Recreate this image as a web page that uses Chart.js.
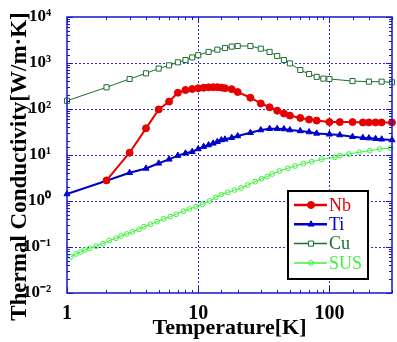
<!DOCTYPE html>
<html>
<head>
<meta charset="utf-8">
<script src="https://cdn.jsdelivr.net/npm/chart.js@4.4.0/dist/chart.umd.min.js"></script>
<style>
html, body { margin: 0; padding: 0; background: #fff; }
</style>
</head>
<body>
<canvas id="chartTC" width="397" height="342"></canvas>
<script>
// series names (legend order)
const seriesNames = ['Nb', 'Ti', 'Cu', 'SUS'];

// Nb
const nbTemp = [2, 3, 4, 5, 6, 7, 8, 9, 10, 11, 12, 13, 14, 15, 16, 18, 20, 25, 30, 35, 40, 45, 50, 60, 70, 80, 100, 120, 150, 180, 200, 225, 250, 300];
const nbK = [2.8, 11.2, 38, 98, 145, 226, 258, 272, 282, 290, 296, 298, 298, 292, 284, 270, 234, 176, 132, 109, 92, 80, 72, 64, 59, 56, 52, 52, 52, 51, 51, 51, 51, 51];

// Ti
const tiTemp = [1, 2, 3, 4, 5, 6, 7, 8, 9, 10, 11, 12, 13, 14, 15, 16, 18, 20, 25, 30, 35, 40, 45, 50, 60, 70, 80, 100, 120, 150, 180, 200, 225, 250, 300];
const tiK = [1.42, 2.76, 4.1, 5.1, 6.6, 8.05, 9.7, 10.9, 11.8, 13.5, 15.2, 16.5, 17.9, 19.5, 21.2, 21.9, 23.8, 25.9, 30.5, 34.9, 37.3, 37.3, 36.7, 34.9, 33.3, 31.6, 29.5, 28.2, 27.2, 25, 23.8, 23.3, 22.6, 22, 21.2];

// Cu
const cuTemp = [1, 2, 3, 4, 5, 6, 7, 8, 9, 10, 12, 14, 16, 18, 20, 25, 30, 35, 40, 45, 50, 60, 70, 80, 90, 100, 150, 200, 250, 300];
const cuK = [151, 296, 449, 596, 758, 890, 1035, 1160, 1320, 1480, 1740, 1950, 2120, 2270, 2340, 2340, 2050, 1740, 1420, 1160, 980, 705, 575, 500, 458, 450, 405, 393, 393, 380];

// SUS
const susTemp = [1.07, 1.17, 1.27, 1.37, 1.49, 1.67, 1.88, 2.1, 2.36, 2.58, 2.86, 3.15, 3.54, 3.86, 4.33, 4.86, 5.45, 6.12, 6.8, 7.71, 8.56, 9.6, 10.8, 12.2, 13.6, 15, 16.8, 18.9, 21.2, 23.8, 27.2, 30.4, 33.6, 36.6, 41.6, 48.3, 54.8, 63.4, 73.3, 87.1, 110, 120, 141, 169, 203, 242, 293];
const susK = [0.0615, 0.0705, 0.0778, 0.0861, 0.0937, 0.104, 0.118, 0.138, 0.155, 0.173, 0.192, 0.215, 0.243, 0.276, 0.311, 0.355, 0.41, 0.46, 0.514, 0.6, 0.67, 0.752, 0.848, 1.0, 1.2, 1.38, 1.54, 1.73, 1.92, 2.23, 2.63, 3.05, 3.4, 3.86, 4.5, 5.14, 5.77, 6.5, 7.15, 8.07, 8.9, 9.66, 10.5, 11.5, 12.4, 13.5, 14.2];

// axis tick labels (decades only)
const xDecades = [1, 10, 100];
const xTickText = ['1', '10', '100'];
const yDecades = [-2, -1, 0, 1, 2, 3, 4];
const yTickText = ['10\u207B\u00B2', '10\u207B\u00B9', '10\u2070', '10\u00B9', '10\u00B2', '10\u00B3', '10\u2074'];

const serif = "'Liberation Serif', 'Times New Roman', serif";

const toPoints = (xs, ys) => xs.map((v, i) => ({ x: v, y: ys[i] }));

const isDecade = (v) => {
    const l = Math.log10(v);
    return Math.abs(l - Math.round(l)) < 1e-6;
};

const canvas = document.getElementById('chartTC');
const ctx = canvas.getContext('2d');

const data = {
    datasets: [{
        label: seriesNames[0],
        data: toPoints(nbTemp, nbK),
        borderColor: '#e60000',
        backgroundColor: '#e60000',
        borderWidth: 2,
        pointStyle: 'circle',
        pointRadius: 3.5,
        pointBorderWidth: 1
    }, {
        label: seriesNames[1],
        data: toPoints(tiTemp, tiK),
        borderColor: '#0000cc',
        backgroundColor: '#0000cc',
        borderWidth: 2,
        pointStyle: 'triangle',
        pointRadius: 3.5,
        pointBorderWidth: 1
    }, {
        label: seriesNames[2],
        data: toPoints(cuTemp, cuK),
        borderColor: '#1d6e30',
        backgroundColor: '#ffffff',
        borderWidth: 1,
        pointStyle: 'rect',
        pointRadius: 3.6,
        pointBorderWidth: 1
    }, {
        label: seriesNames[3],
        data: toPoints(susTemp, susK),
        borderColor: '#3ef03e',
        backgroundColor: 'rgba(255,255,255,0)',
        borderWidth: 1,
        pointStyle: 'circle',
        pointRadius: 2.4,
        pointBorderWidth: 1
    }]
};

// grid, frame, inner ticks, legend box
const decorPlugin = {
    id: 'decor',
    beforeDatasetsDraw(chart) {
        const { ctx, chartArea: a, scales: { x, y } } = chart;
        ctx.save();
        ctx.strokeStyle = '#2a2ad8';
        ctx.lineWidth = 1;
        ctx.setLineDash([2, 2]);
        x.ticks.forEach(t => {
            if (isDecade(t.value) && t.value > x.min && t.value < x.max) {
                const px = Math.round(x.getPixelForValue(t.value)) + 0.5;
                ctx.beginPath(); ctx.moveTo(px, a.top); ctx.lineTo(px, a.bottom); ctx.stroke();
            }
        });
        y.ticks.forEach(t => {
            if (isDecade(t.value) && t.value > y.min && t.value < y.max) {
                const py = Math.round(y.getPixelForValue(t.value)) + 0.5;
                ctx.beginPath(); ctx.moveTo(a.left, py); ctx.lineTo(a.right, py); ctx.stroke();
            }
        });
        ctx.restore();
    },
    afterDatasetsDraw(chart) {
        const { ctx, chartArea: a, scales: { x, y } } = chart;
        ctx.save();
        ctx.strokeStyle = '#1515d0';
        ctx.lineWidth = 1;
        ctx.setLineDash([]);
        x.ticks.forEach(t => {
            const px = Math.round(x.getPixelForValue(t.value)) + 0.5;
            const len = isDecade(t.value) ? 6 : 3;
            ctx.beginPath();
            ctx.moveTo(px, a.bottom); ctx.lineTo(px, a.bottom - len);
            ctx.moveTo(px, a.top); ctx.lineTo(px, a.top + len);
            ctx.stroke();
        });
        y.ticks.forEach(t => {
            const py = Math.round(y.getPixelForValue(t.value)) + 0.5;
            const len = isDecade(t.value) ? 6 : 3;
            ctx.beginPath();
            ctx.moveTo(a.left, py); ctx.lineTo(a.left + len, py);
            ctx.moveTo(a.right, py); ctx.lineTo(a.right - len, py);
            ctx.stroke();
        });
        ctx.lineWidth = 1.5;
        ctx.strokeRect(a.left, a.top, a.right - a.left, a.bottom - a.top);

        // legend
        const bx = 288, by = 191, bw = 80, bh = 88;
        ctx.fillStyle = '#ffffff';
        ctx.fillRect(bx, by, bw, bh);
        ctx.strokeStyle = '#000000';
        ctx.lineWidth = 2;
        ctx.strokeRect(bx, by, bw, bh);
        chart.data.datasets.forEach((ds, i) => {
            const ly = by + 14 + i * 19.3;
            ctx.strokeStyle = ds.borderColor;
            ctx.lineWidth = ds.borderWidth + 0.5;
            ctx.beginPath(); ctx.moveTo(294, ly); ctx.lineTo(327, ly); ctx.stroke();
            ctx.fillStyle = ds.backgroundColor;
            ctx.lineWidth = ds.pointBorderWidth;
            Chart.helpers.drawPoint(ctx, {
                pointStyle: ds.pointStyle, radius: ds.pointRadius, rotation: 0, borderWidth: ds.pointBorderWidth
            }, 311, ly);
            ctx.fillStyle = ds.borderColor;
            ctx.font = '18px ' + serif;
            ctx.textBaseline = 'middle';
            ctx.textAlign = 'left';
            ctx.fillText(ds.label, 329, ly + 1);
        });
        ctx.restore();
    }
};

const chartTC = new Chart(ctx, {
    type: 'scatter',
    data: data,
    plugins: [decorPlugin],
    options: {
        responsive: false,
        animation: false,
        devicePixelRatio: 1,
        clip: false,
        showLine: true,
        layout: { padding: { top: 17, right: 1, left: 0, bottom: 0 } },
        plugins: { legend: { display: false }, tooltip: { enabled: false } },
        scales: {
            x: {
                type: 'logarithmic',
                min: 1,
                max: 300,
                grid: { display: false },
                border: { display: false },
                ticks: {
                    autoSkip: false,
                    maxRotation: 0,
                    minRotation: 0,
                    padding: 1,
                    color: '#000',
                    font: { family: serif, size: 20, weight: 'bold' },
                    callback: (v) => {
                        const i = xDecades.findIndex(d => Math.abs(d - v) < 1e-9);
                        return i >= 0 ? xTickText[i] : '';
                    }
                },
                title: {
                    display: true,
                    text: 'Temperature[K]',
                    color: '#000',
                    padding: { top: 0, bottom: 0 },
                    font: { family: serif, size: 22, weight: 'bold' }
                },
                afterFit: (s) => { s.height = 49; s.paddingLeft = 0; s.paddingRight = 0; }
            },
            y: {
                type: 'logarithmic',
                min: 0.01,
                max: 10000,
                grid: { display: false },
                border: { display: false },
                ticks: {
                    autoSkip: false,
                    padding: 8,
                    color: '#000',
                    font: { family: serif, size: 17, weight: 'bold' },
                    callback: (v) => {
                        const i = yDecades.findIndex(d => Math.abs(Math.log10(v) - d) < 1e-6);
                        return i >= 0 ? yTickText[i] : '';
                    }
                },
                title: {
                    display: true,
                    text: 'Thermal Conductivity[W/m\u00B7K]\u00A0\u00A0\u00A0\u00A0',
                    color: '#000',
                    padding: { top: 6, bottom: 0 },
                    font: { family: serif, size: 23, weight: 'bold' }
                },
                afterFit: (s) => { s.width = 67; s.paddingTop = 0; s.paddingBottom = 0; }
            }
        }
    }
});
</script>
</body>
</html>
